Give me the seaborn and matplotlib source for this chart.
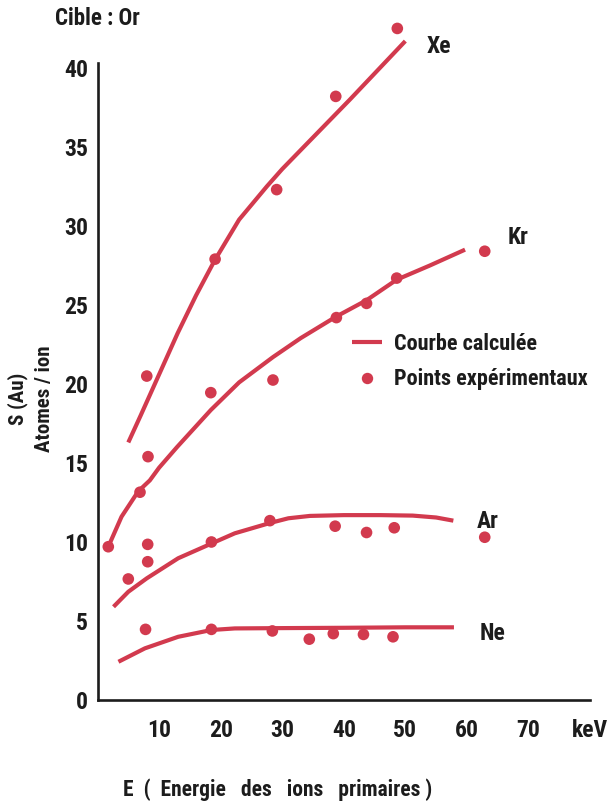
import matplotlib
matplotlib.use("Agg")
import matplotlib.pyplot as plt
from matplotlib.lines import Line2D
import seaborn as sns
import pandas as pd

# ---------------- data ----------------
xe_curve_x = [5, 7, 10, 13, 16, 19, 23, 27.5, 30, 33, 41, 50]
xe_curve_y = [16.3, 18.0, 20.6, 23.2, 25.6, 27.8, 30.4, 32.5, 33.6, 34.8, 38.0, 41.7]
kr_curve_x = [1.75, 3.9, 6.6, 8.5, 10, 12.9, 18.4, 23, 28.5, 33, 38.7, 43.7, 48.6, 54, 59.7]
kr_curve_y = [9.7, 11.6, 13.2, 13.9, 14.7, 16.0, 18.35, 20.1, 21.7, 22.9, 24.25, 25.3, 26.6, 27.5, 28.5]
ar_curve_x = [2.6, 5, 8, 13.1, 18.5, 22.3, 28, 31, 34.5, 40, 46, 51.2, 55, 57.8]
ar_curve_y = [5.9, 6.85, 7.7, 8.97, 9.9, 10.55, 11.2, 11.5, 11.65, 11.7, 11.7, 11.67, 11.55, 11.35]
ne_curve_x = [3.4, 7.7, 13.1, 18.5, 22.3, 30, 40, 50, 57.9]
ne_curve_y = [2.42, 3.27, 4.0, 4.43, 4.53, 4.55, 4.57, 4.6, 4.6]

xe_pts_x = [8.0, 19.1, 29.1, 38.7, 48.7]
xe_pts_y = [20.5, 27.9, 32.3, 38.2, 42.5]
kr_pts_x = [1.75, 6.9, 8.2, 18.4, 28.5, 38.8, 43.7, 48.6, 62.9]
kr_pts_y = [9.7, 13.15, 15.4, 19.45, 20.25, 24.2, 25.1, 26.7, 28.4]
ar_pts_x = [5.0, 8.15, 8.15, 18.5, 28.0, 38.6, 43.7, 48.2, 62.9]
ar_pts_y = [7.66, 8.75, 9.85, 10.0, 11.35, 11.0, 10.6, 10.9, 10.3]
ne_pts_x = [7.8, 18.5, 28.4, 34.4, 38.3, 43.2, 48.0]
ne_pts_y = [4.47, 4.47, 4.37, 3.85, 4.2, 4.15, 4.0]

gases = ["Xe", "Kr", "Ar", "Ne"]
label_x = [53.5, 66.6, 61.6, 62.1]
label_y = [41.35, 29.3, 11.3, 4.24]

xticks = [10, 20, 30, 40, 50, 60, 70, 80]
xtick_labels = ["10", "20", "30", "40", "50", "60", "70", "keV"]
yticks = [0, 5, 10, 15, 20, 25, 30, 35, 40]

# ---------------- style ----------------
RED = "#d23a4e"
INK = "#1c1c1c"
sns.set_style("white")
plt.rcParams["font.family"] = ["Roboto Condensed", "Noto Sans", "DejaVu Sans"]
plt.rcParams["font.stretch"] = "condensed"
plt.rcParams["font.weight"] = "bold"
plt.rcParams["text.color"] = INK

curves = pd.concat([
    pd.DataFrame({"E": xe_curve_x, "S": xe_curve_y, "gaz": "Xe"}),
    pd.DataFrame({"E": kr_curve_x, "S": kr_curve_y, "gaz": "Kr"}),
    pd.DataFrame({"E": ar_curve_x, "S": ar_curve_y, "gaz": "Ar"}),
    pd.DataFrame({"E": ne_curve_x, "S": ne_curve_y, "gaz": "Ne"}),
], ignore_index=True)
points = pd.concat([
    pd.DataFrame({"E": xe_pts_x, "S": xe_pts_y, "gaz": "Xe"}),
    pd.DataFrame({"E": kr_pts_x, "S": kr_pts_y, "gaz": "Kr"}),
    pd.DataFrame({"E": ar_pts_x, "S": ar_pts_y, "gaz": "Ar"}),
    pd.DataFrame({"E": ne_pts_x, "S": ne_pts_y, "gaz": "Ne"}),
], ignore_index=True)

fig = plt.figure(figsize=(6.08, 8.10), dpi=100)
ax = fig.add_axes([0.1604, 0.1358, 0.81, 0.8486])

pal = {g: RED for g in gases}
sns.lineplot(data=curves, x="E", y="S", hue="gaz", palette=pal, sort=False,
             estimator=None, lw=3.0, legend=False, ax=ax, solid_capstyle="butt",
             solid_joinstyle="round")
sns.scatterplot(data=points, x="E", y="S", hue="gaz", palette=pal, s=70,
                edgecolor="none", legend=False, ax=ax, zorder=3)

ax.set_xlim(0, 80)
ax.set_ylim(0, 43.5)
for s in ["top", "right"]:
    ax.spines[s].set_visible(False)
for s in ["left", "bottom"]:
    ax.spines[s].set_color(INK)
    ax.spines[s].set_linewidth(1.9)
ax.spines["left"].set_bounds(0, 40.3)
ax.spines["bottom"].set_bounds(0, 80)

ax.set_xticks(xticks)
ax.set_xticklabels(xtick_labels)
ax.set_yticks(yticks)
ax.tick_params(axis="y", direction="in", length=10, width=1.8, pad=7,
               labelsize=17, colors=INK)
ax.tick_params(axis="x", direction="in", length=12, width=1.8, pad=14,
               labelsize=17, colors=INK)

ax.set_xlabel("E  (  Energie   des   ions   primaires )", fontsize=15.5,
              fontweight="bold", color=INK)
ax.xaxis.set_label_coords(0.3665, -0.1135)
ax.set_ylabel("S (Au)\nAtomes / ion", fontsize=15, fontweight="bold",
              color=INK, linespacing=1.5)
ax.yaxis.set_label_coords(-0.088, 0.438)

for g, lx, ly in zip(gases, label_x, label_y):
    ax.text(lx, ly, g, ha="left", va="center", fontsize=17, fontweight="bold",
            color=INK)

fig.text(97 / 608, 1 - 18.5 / 810, "Cible : Or", ha="center", va="center",
         fontsize=16.5, fontweight="bold", color=INK)

handles = [Line2D([], [], color=RED, lw=3.0, solid_capstyle="butt"),
           Line2D([], [], color=RED, lw=0, marker="o", markersize=8.2,
                  markeredgewidth=0)]
ax.legend(handles, ["Courbe calculée", "Points expérimentaux"],
          loc="center left", bbox_to_anchor=(0.516, 0.492), frameon=False,
          borderpad=0, borderaxespad=0, handlelength=1.35, handletextpad=0.56,
          labelspacing=0.6, prop={"size": 16, "weight": "bold"})

fig.savefig("out.png", dpi=100, facecolor="white")
